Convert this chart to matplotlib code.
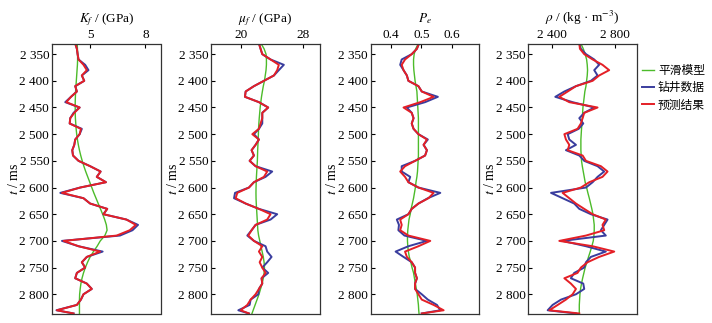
import numpy as np
import matplotlib
matplotlib.use("Agg")
import matplotlib.pyplot as plt
from matplotlib.ticker import FixedLocator, FuncFormatter

plt.rcParams['font.family'] = ['Liberation Serif', 'Noto Sans CJK SC']
plt.rcParams['mathtext.fontset'] = 'stix'

# === depth axis (ms) ===
depth = [2330, 2340, 2350, 2360, 2370, 2380, 2390, 2400, 2410, 2420,
         2430, 2440, 2450, 2460, 2470, 2480, 2490, 2500, 2510, 2520,
         2530, 2540, 2550, 2560, 2570, 2580, 2590, 2600, 2610, 2620,
         2630, 2640, 2650, 2660, 2670, 2680, 2690, 2700, 2710, 2720,
         2730, 2740, 2750, 2760, 2770, 2780, 2790, 2800, 2810, 2820,
         2830, 2836]

# === K_f (GPa) ===
kf_model = [4.30, 4.31, 4.32, 4.32, 4.31, 4.29, 4.27, 4.25, 4.23, 4.21,
            4.20, 4.19, 4.19, 4.19, 4.20, 4.22, 4.24, 4.27, 4.31, 4.36,
            4.42, 4.49, 4.57, 4.66, 4.76, 4.87, 4.98, 5.09, 5.20, 5.32,
            5.44, 5.56, 5.68, 5.79, 5.88, 5.92, 5.80, 5.55, 5.38, 5.18,
            5.00, 4.86, 4.74, 4.64, 4.56, 4.50, 4.46, 4.43, 4.42, 4.42,
            4.42, 4.42]
kf_well = [4.19, 4.28, 4.32, 4.37, 4.73, 4.91, 4.55, 4.68, 4.19, 4.28,
           3.96, 3.65, 4.43, 4.10, 3.92, 3.89, 4.55, 4.43, 4.19, 4.14,
           4.03, 4.07, 4.37, 5.00, 5.57, 5.36, 5.86, 4.46, 3.38, 4.64,
           5.00, 5.93, 5.72, 6.97, 7.60, 7.30, 6.62, 3.47, 4.37, 5.68,
           4.82, 4.55, 4.73, 4.28, 4.19, 4.82, 5.09, 4.64, 4.50, 4.28,
           3.17, 4.10]
kf_pred = [4.19, 4.28, 4.32, 4.37, 4.64, 4.82, 4.55, 4.68, 4.19, 4.28,
           3.96, 3.71, 4.43, 4.14, 3.92, 3.89, 4.50, 4.43, 4.19, 4.14,
           4.03, 4.07, 4.37, 5.00, 5.57, 5.36, 5.86, 4.46, 3.47, 4.64,
           5.00, 5.93, 5.72, 6.97, 7.48, 7.15, 6.44, 3.56, 4.37, 5.54,
           4.82, 4.55, 4.73, 4.28, 4.19, 4.82, 5.09, 4.64, 4.50, 4.28,
           3.20, 4.10]

# === mu_f (GPa) ===
mu_model = [22.60, 23.00, 23.25, 23.30, 23.30, 23.25, 23.15, 23.05, 22.90, 22.78,
            22.67, 22.58, 22.50, 22.44, 22.38, 22.33, 22.29, 22.27, 22.24, 22.21,
            22.18, 22.16, 22.14, 22.10, 22.06, 22.02, 21.99, 21.97, 21.96, 21.97,
            22.00, 22.04, 22.08, 22.12, 22.16, 22.20, 22.30, 22.45, 22.60, 22.75,
            22.90, 23.00, 23.05, 23.00, 22.90, 22.75, 22.55, 22.35, 22.10, 21.85,
            21.60, 21.45]
mu_well = [22.34, 22.55, 22.77, 23.83, 25.53, 24.89, 24.26, 22.98, 21.70, 20.64,
           20.55, 22.34, 23.53, 22.77, 22.77, 22.77, 22.34, 21.70, 22.34, 21.91,
           21.40, 21.70, 21.15, 21.91, 24.04, 23.19, 21.70, 21.06, 19.28, 19.15,
           20.64, 22.34, 24.68, 23.83, 21.91, 21.40, 20.85, 21.70, 23.19, 23.40,
           23.96, 23.40, 22.77, 23.53, 22.68, 22.77, 22.34, 22.26, 21.28, 21.15,
           19.70, 21.06]
mu_pred = [22.34, 22.55, 22.77, 23.83, 24.89, 24.68, 24.26, 22.98, 21.70, 20.64,
           20.55, 22.34, 23.53, 22.77, 22.77, 22.55, 22.34, 21.49, 22.34, 21.91,
           21.40, 21.70, 21.15, 21.91, 23.40, 22.98, 21.70, 21.06, 19.57, 19.36,
           20.64, 22.34, 23.83, 23.40, 21.91, 21.40, 20.98, 21.70, 22.77, 22.34,
           22.77, 22.43, 22.77, 23.19, 22.68, 22.77, 22.34, 21.91, 21.28, 20.85,
           20.00, 21.06]

# === P_e ===
pe_model = [0.490, 0.481, 0.476, 0.474, 0.474, 0.475, 0.477, 0.479, 0.482, 0.485,
            0.486, 0.487, 0.488, 0.489, 0.490, 0.490, 0.490, 0.490, 0.490, 0.490,
            0.490, 0.490, 0.489, 0.488, 0.487, 0.485, 0.482, 0.480, 0.477, 0.474,
            0.470, 0.466, 0.463, 0.459, 0.457, 0.455, 0.454, 0.454, 0.455, 0.457,
            0.460, 0.465, 0.469, 0.474, 0.477, 0.480, 0.483, 0.486, 0.488, 0.490,
            0.491, 0.492]
pe_well = [0.492, 0.485, 0.468, 0.435, 0.430, 0.441, 0.452, 0.457, 0.490, 0.501,
           0.554, 0.512, 0.452, 0.468, 0.474, 0.468, 0.474, 0.490, 0.521, 0.507,
           0.518, 0.512, 0.479, 0.435, 0.435, 0.463, 0.457, 0.490, 0.562, 0.521,
           0.490, 0.468, 0.457, 0.419, 0.426, 0.424, 0.444, 0.518, 0.457, 0.415,
           0.441, 0.468, 0.479, 0.479, 0.485, 0.479, 0.479, 0.501, 0.521, 0.551,
           0.562, 0.501]
pe_pred = [0.492, 0.485, 0.468, 0.446, 0.435, 0.441, 0.452, 0.457, 0.490, 0.501,
           0.540, 0.496, 0.441, 0.468, 0.474, 0.468, 0.474, 0.490, 0.518, 0.507,
           0.518, 0.512, 0.479, 0.446, 0.430, 0.446, 0.457, 0.490, 0.540, 0.523,
           0.490, 0.468, 0.457, 0.430, 0.435, 0.430, 0.457, 0.529, 0.490, 0.446,
           0.452, 0.468, 0.479, 0.479, 0.485, 0.479, 0.479, 0.490, 0.501, 0.540,
           0.573, 0.501]

# === rho (kg/m3) ===
rho_model = [2584, 2599, 2611, 2620, 2624, 2626, 2624, 2620, 2616, 2609,
             2605, 2601, 2597, 2595, 2593, 2591, 2588, 2586, 2584, 2584,
             2584, 2586, 2588, 2593, 2599, 2605, 2611, 2620, 2628, 2637,
             2645, 2653, 2660, 2664, 2668, 2668, 2666, 2662, 2653, 2643,
             2632, 2622, 2611, 2603, 2595, 2588, 2582, 2578, 2576, 2574,
             2574, 2574]
rho_well = [2574, 2584, 2616, 2668, 2699, 2668, 2689, 2647, 2553, 2480,
            2423, 2532, 2668, 2605, 2574, 2599, 2570, 2501, 2511, 2553,
            2490, 2574, 2605, 2689, 2731, 2689, 2658, 2616, 2396, 2469,
            2542, 2574, 2647, 2752, 2731, 2710, 2741, 2469, 2616, 2741,
            2647, 2616, 2605, 2542, 2521, 2599, 2605, 2553, 2459, 2406,
            2375, 2553]
rho_pred = [2574, 2578, 2605, 2658, 2720, 2762, 2699, 2658, 2553, 2501,
            2448, 2511, 2689, 2605, 2595, 2584, 2563, 2480, 2490, 2511,
            2501, 2595, 2616, 2710, 2752, 2720, 2637, 2584, 2469, 2511,
            2553, 2605, 2658, 2741, 2720, 2731, 2616, 2448, 2658, 2794,
            2699, 2626, 2584, 2563, 2480, 2521, 2553, 2532, 2490, 2438,
            2385, 2574]

titles = [r"$K_f$ / (GPa)", r"$\mu_f$ / (GPa)", r"$P_e$", r"$\rho$ / (kg · m$^{-3}$)"]
xlims = [(2.93, 8.82), (16.2, 30.1), (0.333, 0.69), (2253, 2936)]
xticks = [[5, 8], [20, 28], [0.4, 0.5, 0.6], [2400, 2800]]
yticks = [2350, 2400, 2450, 2500, 2550, 2600, 2650, 2700, 2750, 2800]
panels = [(kf_model, kf_well, kf_pred), (mu_model, mu_well, mu_pred),
          (pe_model, pe_well, pe_pred), (rho_model, rho_well, rho_pred)]
legend_labels = ["平滑模型", "钻井数据", "预测结果"]

c_model = '#4cbb2a'
c_well = '#3a3d9e'
c_pred = '#e41f26'


def thousands(v, pos=None):
    v = int(round(v))
    if v >= 1000:
        return f"{v // 1000} {v % 1000:03d}"
    return str(v)


fig = plt.figure(figsize=(7.12, 3.23), dpi=100)
lefts = [52, 211, 370.7, 528.3]
W, H = 712.0, 323.0

for i, (model, well, pred) in enumerate(panels):
    ax = fig.add_axes([lefts[i] / W, (H - 314) / H, 108.5 / W, 270 / H])
    ax.plot(model, depth, color=c_model, lw=1.0, label=legend_labels[0])
    ax.plot(well, depth, color=c_well, lw=1.4, label=legend_labels[1])
    ax.plot(pred, depth, color=c_pred, lw=1.4, label=legend_labels[2])
    ax.set_xlim(*xlims[i])
    ax.set_ylim(2837, 2331)
    ax.xaxis.set_major_locator(FixedLocator(xticks[i]))
    if i == 3:
        ax.xaxis.set_major_formatter(FuncFormatter(thousands))
    ax.yaxis.set_major_locator(FixedLocator(yticks))
    ax.yaxis.set_major_formatter(FuncFormatter(thousands))
    ax.xaxis.tick_top()
    ax.tick_params(direction='in', length=3, width=0.8, labelsize=9.5, pad=2)
    ax.set_title(titles[i], fontsize=9.5, pad=5)
    ax.set_ylabel(r"$t$ / ms", fontsize=10, labelpad=-1)
    for s in ax.spines.values():
        s.set_linewidth(0.9)
        s.set_color('#333333')
    if i == 0:
        handles, labels = ax.get_legend_handles_labels()

fig.legend(handles, labels, loc='upper left', bbox_to_anchor=(642 / W, 1 - 65 / H),
           frameon=False, fontsize=8.5, handlelength=1.0, handletextpad=0.35,
           labelspacing=0.45, borderaxespad=0, borderpad=0)

fig.savefig("out.png", dpi=100)
